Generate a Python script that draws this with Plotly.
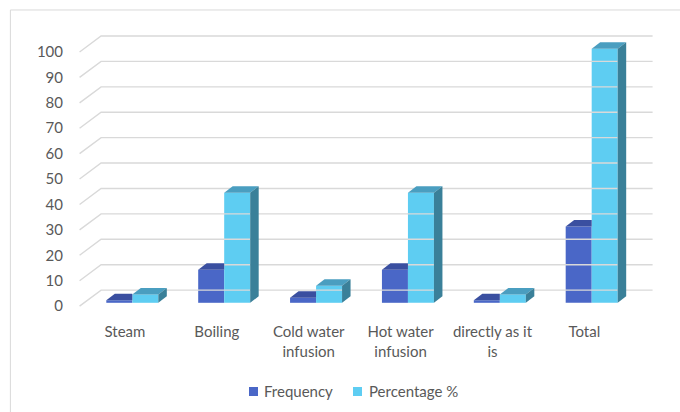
import plotly.graph_objects as go

categories = ["Steam", "Boiling", "Cold water<br>infusion", "Hot water<br>infusion", "directly as it<br>is", "Total"]
frequency = [1, 13, 2, 13, 1, 30]
percentage = [3.3, 43.3, 6.7, 43.3, 3.3, 100]
y_ticks = [0, 10, 20, 30, 40, 50, 60, 70, 80, 90, 100]
series_names = ["Frequency", "Percentage %"]

FREQ_FRONT, FREQ_TOP = "#4A67C7", "#3A4FA0"
PCT_FRONT, PCT_TOP, PCT_SIDE = "#5ECDF2", "#4A9EC0", "#3A8099"
GRID = "#D9D9D9"
TXT = "#595959"
FONT = "Lato"

W = 0.283          # bar width in category units
DX = 0.0925        # depth offset in x (category units)
DY = 2.56          # depth offset in y (value units)
FRONT_DY = -1.3    # front plane offset (value units)
BACK_DY = 5.0      # back wall offset (value units)
X_FRONT_L, X_BACK_L, X_BACK_R = -0.574, -0.34, 5.663

xs = list(range(len(categories)))
fig = go.Figure()

# gridlines (floor + back wall)
gx, gy = [], []
for t in y_ticks:
    gx += [X_FRONT_L, X_BACK_L, X_BACK_R, None]
    gy += [t + FRONT_DY, t + BACK_DY, t + BACK_DY, None]
fig.add_trace(go.Scatter(x=gx, y=gy, mode="lines", line=dict(color=GRID, width=1.4),
                         hoverinfo="skip", showlegend=False))

fig.add_trace(go.Bar(x=xs, y=frequency, name=series_names[0], offset=-W, width=W,
                     marker=dict(color=FREQ_FRONT, line=dict(width=0))))
fig.add_trace(go.Bar(x=xs, y=percentage, name=series_names[1], offset=0, width=W,
                     marker=dict(color=PCT_FRONT, line=dict(width=0))))

def poly(px, py, color):
    fig.add_trace(go.Scatter(x=px + [px[0]], y=py + [py[0]], mode="lines", fill="toself",
                             fillcolor=color, line=dict(width=0, color=color),
                             hoverinfo="skip", showlegend=False))

for i, (f, p) in enumerate(zip(frequency, percentage)):
    x0, x1 = i - W, i
    poly([x0, x1, x1, x0 + DX], [f, f, f + DY, f + DY], FREQ_TOP)
    x0, x1 = i, i + W
    poly([x0, x1, x1 + DX, x0 + DX], [p, p, p + DY, p + DY], PCT_TOP)
    poly([x1, x1, x1 + DX, x1 + DX], [0, p, p + DY, DY], PCT_SIDE)

# chart border (only top/left visible)
fig.add_shape(type="rect", xref="paper", yref="paper", x0=-0.098, x1=1.2, y0=-1.5, y1=1.034,
              line=dict(color="#D9D9D9", width=1), fillcolor="rgba(0,0,0,0)", layer="below")

# legend drawn as squares + text (pixel-matched to Excel layout)
PW, PH, PL, PB = 588, 295, 68, 315
def px2paper(x, y):
    return (x - PL) / PW, (PB - y) / PH
for (lx, tx), name, col in zip([(249, 262), (353, 367)], series_names, [FREQ_FRONT, PCT_FRONT]):
    ax0, ay0 = px2paper(lx, 396)
    ax1, ay1 = px2paper(lx + 9, 387)
    fig.add_shape(type="rect", xref="paper", yref="paper", x0=ax0, x1=ax1, y0=ay0, y1=ay1,
                  line=dict(width=0), fillcolor=col)
    tx_p, ty_p = px2paper(tx, 391)
    fig.add_annotation(xref="paper", yref="paper", x=tx_p, y=ty_p, xanchor="left", yanchor="middle",
                       text=name, showarrow=False, font=dict(family=FONT, size=15, color=TXT))

fig.update_layout(
    width=680, height=412,
    margin=dict(l=PL, r=680 - PL - PW, t=PB - PH, b=412 - PB, autoexpand=False),
    paper_bgcolor="white", plot_bgcolor="white",
    barmode="overlay",
    font=dict(family=FONT, size=15, color=TXT),
    xaxis=dict(range=[-0.7, 5.7], tickvals=[x - 0.08 for x in xs], ticktext=categories,
               showgrid=False, zeroline=False, showline=False, ticks="", automargin=False,
               ticklabelstandoff=6, tickfont=dict(size=15, color=TXT)),
    yaxis=dict(range=[-4.8, 111.3], tickvals=[t + FRONT_DY for t in y_ticks],
               ticktext=[str(t) for t in y_ticks], showgrid=False, zeroline=False,
               showline=False, ticks="", ticklabelstandoff=4, automargin=False,
               tickfont=dict(size=15, color=TXT)),
    showlegend=False,
)

fig.write_html("out.html")
